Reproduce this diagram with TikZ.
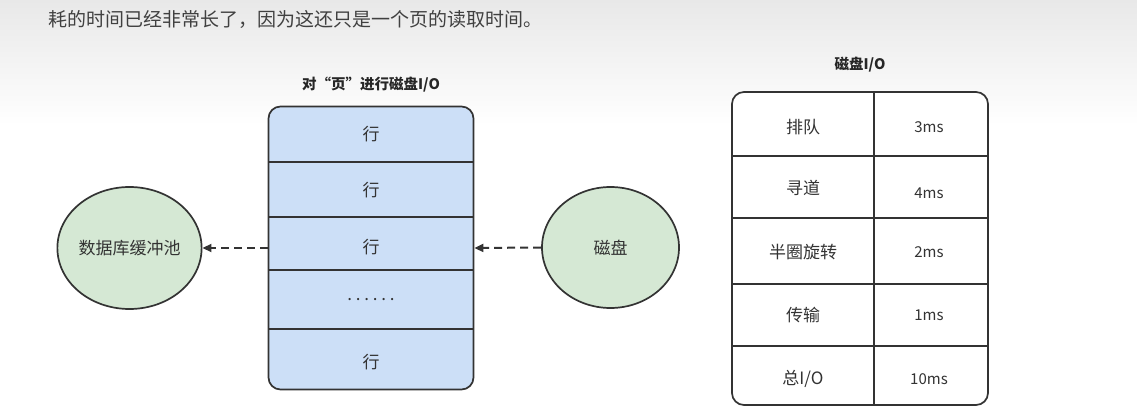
\documentclass[tikz,border=0pt]{standalone}
\usepackage{fontspec}
\setmainfont{Noto Sans CJK SC}
\usepackage{xcolor}
\usepackage{tikz}
\usetikzlibrary{arrows.meta,positioning,shapes.geometric}
\definecolor{rowblue}{HTML}{CCDFF7}
\definecolor{poolgreen}{HTML}{D5E8D4}
\definecolor{inkgray}{HTML}{333333}

\begin{document}
\begin{tikzpicture}[x=1pt,y=-1pt,
    lbl/.style={text=inkgray, font=\fontsize{17}{19}\selectfont},
    head/.style={text=black!85, font=\fontsize{14.5}{16}\selectfont\bfseries},
    blob/.style={ellipse, draw=inkgray, line width=1.7pt, fill=poolgreen, lbl,
      minimum width=136pt, minimum height=122pt, inner sep=0pt},
    link/.style={inkgray, line width=2pt, dash pattern=on 8pt off 5pt,
      -{Triangle[length=9pt,width=8pt]}},
    rule/.style={inkgray, line width=1.5pt}]
  \useasboundingbox (0,0) rectangle (1137,419);
  \shade[top color=black!9, bottom color=white] (0,0) rectangle (1137,125);
  \node[text=black!75, font=\fontsize{19}{22}\selectfont, anchor=west] (intro)
    at (45,19) {耗的时间已经非常长了，因为这还只是一个页的读取时间。};

  % page with rows
  \node[head] (pagehead) at (371,85) {对“页”进行磁盘I/O};
  \node[draw=inkgray, line width=1.7pt, fill=rowblue, rounded corners=12pt,
    minimum width=205pt, minimum height=283pt, inner sep=0pt] (page) at (371,248) {};
  \foreach \y in {162,217,270,329}
    \draw[rule] (268,\y) -- (474,\y);
  \foreach \y/\t [count=\i] in {134/行,190/行,247/行,300/{.\ .\ .\ .\ .\ .},362/行}
    \node[lbl] (row\i) at (371,\y) {\t};

  % buffer pool and disk
  \node[blob] (pool) at (129.5,248) {数据库缓冲池};
  \node[blob, minimum width=137pt, minimum height=121pt] (disk) at (610.5,247.5) {磁盘};
  \draw[link] (page.west) -- (pool.east);
  \draw[link] (disk.west) -- (page.east);

  % disk I/O costs
  \node[head] (tabhead) at (860,65) {磁盘I/O};
  \node[draw=inkgray, line width=1.7pt, fill=white, rounded corners=12pt,
    minimum width=256pt, minimum height=313pt, inner sep=0pt] (costs) at (860,248.5) {};
  \draw[rule] (874,92) -- (874,405);
  \foreach \y in {156,218,284,346}
    \draw[rule] (732,\y) -- (988,\y);
  \foreach \y/\w/\k/\v [count=\i] in {127/127/排队/3ms,188/193/寻道/4ms,
      252/252/半圈旋转/2ms,315/315/传输/1ms,379/379/{总I/O}/10ms} {
    \node[lbl] (step\i) at (803,\y) {\k};
    \node[lbl, font=\fontsize{15}{17}\selectfont] (cost\i) at (929,\w) {\v};
  }
\end{tikzpicture}
\end{document}
